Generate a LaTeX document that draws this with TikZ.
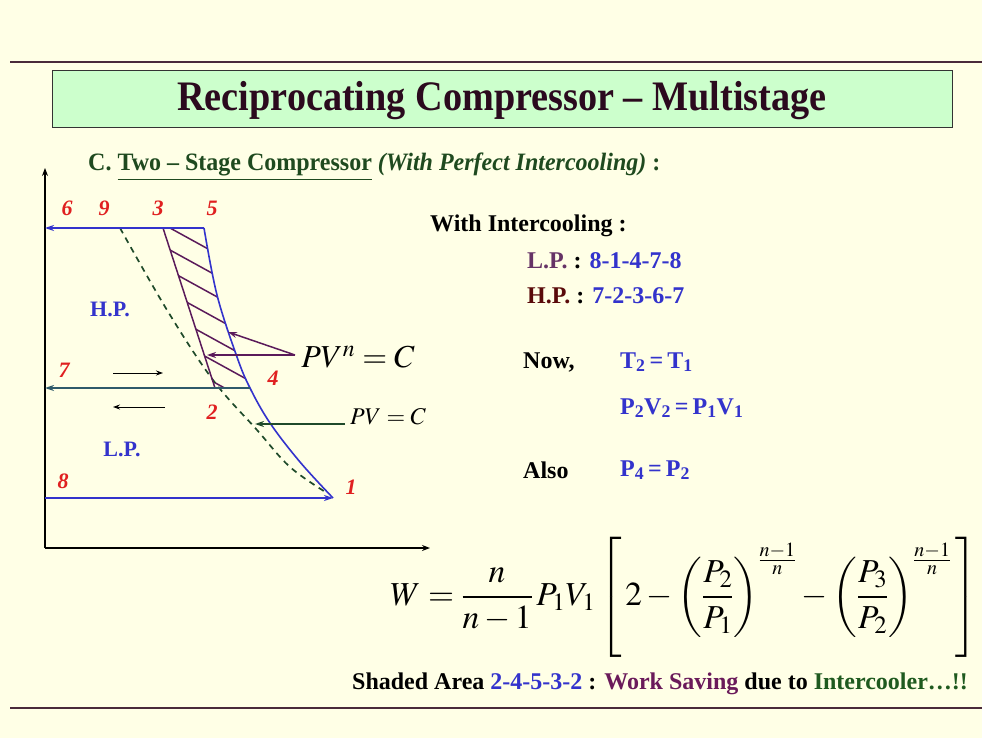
\documentclass[tikz,border=0pt]{standalone}
\usepackage{mathptmx}
\usepackage{fontspec}
\setmainfont{Liberation Serif}
\usetikzlibrary{arrows.meta}
\definecolor{bgc}{HTML}{FFFFE6}
\definecolor{titlefill}{HTML}{CCFFCC}
\definecolor{titletext}{HTML}{2B0A1E}
\definecolor{rulec}{HTML}{4A2A3A}
\definecolor{subgreen}{HTML}{1F4A1F}
\definecolor{lineblue}{HTML}{3333CC}
\definecolor{lineteal}{HTML}{2F5A6A}
\definecolor{hatchpurple}{HTML}{5A1A5A}
\definecolor{labred}{HTML}{E02020}
\definecolor{dashgreen}{HTML}{1F4A2A}
\definecolor{txtblue}{HTML}{3333CC}
\definecolor{lppurple}{HTML}{663366}
\definecolor{hpmaroon}{HTML}{5A0A0A}
\definecolor{workpurple}{HTML}{6A1A5A}
\definecolor{icgreen}{HTML}{1F5A1F}
\tikzset{
  ptlabel/.style={text=labred,font=\fontsize{22}{24}\selectfont\bfseries\itshape,inner sep=0pt},
  regionlab/.style={text=txtblue,font=\fontsize{22}{24}\selectfont\bfseries,inner sep=0pt},
  rtext/.style={anchor=west,font=\fontsize{24}{28}\selectfont\bfseries,inner sep=0pt},
  axisline/.style={black,line width=1.3pt,-{Stealth[length=8pt,width=6pt]}},
  bluel/.style={lineblue,line width=1.6pt},
  teall/.style={lineteal,line width=1.6pt},
  purpl/.style={hatchpurple,line width=1.5pt},
  dashc/.style={dashgreen,line width=1.7pt,dash pattern=on 6pt off 5pt},
  tipS/.style={-{Stealth[length=9pt,width=6pt]}},
  smallarrow/.style={black,line width=1pt,-{Stealth[length=7pt,width=5pt]}},
  rulestyle/.style={rulec,line width=2.5pt}
}
\begin{document}
\begin{tikzpicture}[x=1pt,y=-1pt]
\fill[bgc] (0,0) rectangle (982,738);
\useasboundingbox (0,0) rectangle (982,738);
% rules
\coordinate (rt1) at (10,62); \coordinate (rt2) at (982,62);
\coordinate (rb1) at (10,708); \coordinate (rb2) at (982,708);
\draw[rulestyle] (rt1) -- (rt2);
\draw[rulestyle] (rb1) -- (rb2);
% title
\node[draw=black!80,line width=1pt,fill=titlefill,minimum width=900pt,minimum height=57pt,inner sep=0pt] (titlebox) at (502,99.5) {};
\node[text=titletext,font=\fontsize{42}{46}\selectfont\bfseries] (title) at (502,101) {\scalebox{0.91}[1]{Reciprocating Compressor -- Multistage}};
% subtitle
\node[anchor=west,text=subgreen,font=\fontsize{25}{28}\selectfont\bfseries,inner sep=0pt] (subtitle) at (88,167)
  {\scalebox{0.96}[1]{C. \underline{Two -- Stage Compressor} \textit{(With Perfect Intercooling)} :}};
% axes
\coordinate (origin) at (45,548);
\coordinate (ytop) at (45,168);
\coordinate (xend) at (430,548);
\draw[axisline] (origin) -- (ytop);
\draw[axisline] (origin) -- (xend);
% points
\coordinate (p6) at (45,228);
\coordinate (p9) at (120,228);
\coordinate (p3) at (163,228);
\coordinate (p5) at (204,228);
\coordinate (p7) at (45,388);
\coordinate (p2) at (215,388);
\coordinate (p4) at (250,388);
\coordinate (p8) at (45,498);
\coordinate (p1) at (333,498);
% hatching
\begin{scope}
\clip (p2) -- (p4) -- (237,357) -- (228,330) -- (217,295) -- (p5) -- (p3) -- cycle;
\foreach \yy in {224,246,267,289,311,333,354,374}{
  \draw[purpl] (150,\yy-7) -- (270,\yy+59);
}
\end{scope}
% PV=C dashed curve
\draw[dashc] plot[smooth,tension=0.6] coordinates {(p9) (167,310) (213,380) (257,430) (290,467) (327,493)};
% curves
\draw[purpl] (p2) -- (p3);
\draw[bluel] plot[smooth,tension=0.6] coordinates {(p1) (300,462) (270,423) (p4) (237,357) (217,295) (p5)};
\draw[bluel,tipS] (p5) -- (p6);
\draw[bluel,tipS] (p8) -- (p1);
\draw[teall,tipS] (p4) -- (p7);
% small arrows
\coordinate (ra1) at (113,373); \coordinate (ra2) at (163,373);
\coordinate (la1) at (165,407); \coordinate (la2) at (113,407);
\draw[smallarrow] (ra1) -- (ra2);
\draw[smallarrow] (la1) -- (la2);
% PV^n = C
\node[font=\fontsize{32}{36}\selectfont,inner sep=0pt] (pvn) at (358,357) {$PV^{n}=C$};
\coordinate (pvnsrc) at (295,355);
\coordinate (pvntip1) at (228,332);
\coordinate (pvntip2) at (207,355);
\draw[purpl,tipS] (pvnsrc) -- (pvntip1);
\draw[purpl,tipS] (pvnsrc) -- (pvntip2);
% PV = C
\node[font=\fontsize{24}{28}\selectfont,inner sep=0pt,anchor=west] (pvc) at (350,417) {$PV=C$};
\coordinate (pvcsrc) at (345,424);
\coordinate (pvctip) at (255,424);
\draw[dashgreen,line width=1.5pt,tipS] (pvcsrc) -- (pvctip);
% labels
\node[ptlabel] (l6) at (67,208) {6};
\node[ptlabel] (l9) at (104,208) {9};
\node[ptlabel] (l3) at (158,208) {3};
\node[ptlabel] (l5) at (212,208) {5};
\node[ptlabel] (l7) at (64,370) {7};
\node[ptlabel] (l4) at (273,378) {4};
\node[ptlabel] (l2) at (212,412) {2};
\node[ptlabel] (l8) at (63,481) {8};
\node[ptlabel] (l1) at (351,487) {1};
\node[regionlab] (hp) at (110,309) {H.P.};
\node[regionlab] (lp) at (122,449) {L.P.};
% right text
\node[rtext] (wi) at (430,226) {With Intercooling :};
\node[rtext] (lpc) at (527,261) {\textcolor{lppurple}{L.P.} : \textcolor{txtblue}{8-1-4-7-8}};
\node[rtext] (hpc) at (527,296) {\textcolor{hpmaroon}{H.P.} : \textcolor{txtblue}{7-2-3-6-7}};
\node[rtext] (now) at (523,362) {Now,};
\node[rtext,text=txtblue] (t21) at (620,362) {T\textsubscript{2}\,=\,T\textsubscript{1}};
\node[rtext,text=txtblue] (pv21) at (620,408) {P\textsubscript{2}V\textsubscript{2}\,=\,P\textsubscript{1}V\textsubscript{1}};
\node[rtext] (also) at (523,470) {Also};
\node[rtext,text=txtblue] (p42) at (620,470) {P\textsubscript{4}\,=\,P\textsubscript{2}};
% formula
\node[anchor=west,inner sep=0pt,font=\fontsize{33.5}{40}\selectfont] (formula) at (390,597)
 {$\displaystyle W=\frac{n}{n-1}\,P_1V_1\left[\,2-\left(\frac{P_2}{P_1}\right)^{\frac{n-1}{n}}-\left(\frac{P_3}{P_2}\right)^{\frac{n-1}{n}}\,\right]$};
% bottom line
\node[anchor=west,inner sep=0pt,font=\fontsize{24}{28}\selectfont\bfseries] (bottom) at (352,684)
 {Shaded Area \textcolor{txtblue}{2-4-5-3-2} : \textcolor{workpurple}{Work Saving} due to \textcolor{icgreen}{Intercooler…!!}};
\end{tikzpicture}
\end{document}
